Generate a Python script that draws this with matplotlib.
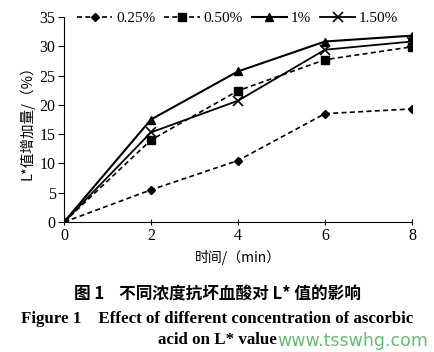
import matplotlib
matplotlib.use("Agg")
import matplotlib.pyplot as plt

# 时间 (min)
time_min = [0, 2, 4, 6, 8]
labels = ["0.25%", "0.50%", "1%", "1.50%"]
c025 = [0, 5.5, 10.5, 18.5, 19.3]
c050 = [0, 14.0, 22.4, 27.7, 29.9]
c100 = [0, 17.5, 25.7, 30.8, 31.8]
c150 = [0, 15.3, 20.7, 29.4, 30.8]

serif = ["Liberation Serif", "Noto Sans CJK SC"]
cjk = ["Noto Sans CJK SC", "Liberation Serif"]

fig = plt.figure(figsize=(4.35, 3.52), dpi=100)
ax = fig.add_axes([0.147, 0.369, 0.80, 0.583])

ax.plot(time_min, c025, color="black", ls=(0, (3, 2)), lw=1.2, marker="D", ms=4.5, label=labels[0])
ax.plot(time_min, c050, color="black", ls=(0, (3, 2)), lw=1.2, marker="s", ms=5.5, label=labels[1])
ax.plot(time_min, c100, color="black", ls="-", lw=1.5, marker="^", ms=6, label=labels[2])
ax.plot(time_min, c150, color="black", ls="-", lw=1.3, marker="x", ms=7, mew=1.2, label=labels[3])

ax.set_xlim(0, 8)
ax.set_ylim(0, 35)
ax.set_xticks([0, 2, 4, 6, 8])
ax.set_yticks(range(0, 36, 5))
ax.spines["top"].set_visible(False)
ax.spines["right"].set_visible(False)
ax.tick_params(axis="x", direction="inout", length=5, labelsize=11.5, pad=2)
ax.tick_params(axis="y", direction="out", length=4, labelsize=11.5, pad=2)
for t in ax.get_xticklabels() + ax.get_yticklabels():
    t.set_fontfamily(serif)

ax.set_ylabel("L*值增加量/（%）", family=cjk, fontsize=10.5, labelpad=4)
ax.set_xlabel("时间/（min）", family=cjk, fontsize=10, labelpad=4)

leg = ax.legend(loc="lower left", bbox_to_anchor=(0.02, 0.93), ncol=4, frameon=False,
                prop={"family": serif, "size": 11}, handlelength=2.3,
                columnspacing=0.6, handletextpad=0.25, borderaxespad=0)

fig.text(0.5, 0.163, "图 1    不同浓度抗坏血酸对 L* 值的影响", ha="center", va="center",
         family=cjk, fontsize=12, fontweight="bold")
fig.text(0.5, 0.095, "Figure 1    Effect of different concentration of ascorbic",
         ha="center", va="center", family=serif, fontsize=12.2, fontweight="bold")
fig.text(0.5, 0.033, "acid on L* value", ha="center", va="center",
         family=serif, fontsize=12.2, fontweight="bold")
fig.text(0.985, 0.03, "www.tsswhg.com", ha="right", va="center",
         family="DejaVu Sans", fontsize=12.5, color="#3cb04a", alpha=0.8)

fig.savefig("out.png", dpi=100)
